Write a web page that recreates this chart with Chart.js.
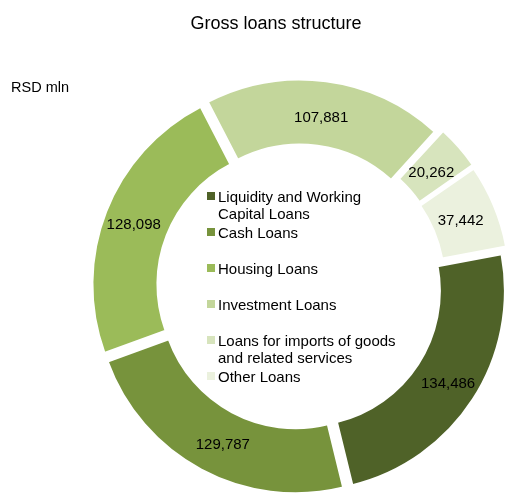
<!DOCTYPE html>
<html>
<head>
<meta charset="utf-8">
<title>Gross loans structure</title>
<script src="https://cdn.jsdelivr.net/npm/chart.js"></script>
<style>
  body { margin: 0; background: #fff; overflow: hidden; font-family: "Liberation Sans", Arial, sans-serif; color: #000; }
  #wrap { position: relative; width: 508px; height: 493px; }
  #loansChart { position: absolute; left: 0; top: 0; }
  .chart-title { position: absolute; left: 0; top: 13px; width: 552px; text-align: center; font-size: 18px; line-height: 20px; }
  .unit { position: absolute; left: 11px; top: 79px; font-size: 14.5px; line-height: 16px; }
  #legend { position: absolute; left: 207px; top: 188px; font-size: 15px; line-height: 17px; }
  .legend-item { position: relative; height: 36px; padding-left: 11px; white-space: nowrap; }
  .legend-box { position: absolute; left: 0; top: 4px; width: 8px; height: 8px; }
</style>
</head>
<body>
<div id="wrap">
  <canvas id="loansChart" width="508" height="493"></canvas>
  <div class="chart-title">Gross loans structure</div>
  <div class="unit">RSD mln</div>
  <div id="legend"></div>
</div>

<script>
// 数据
const categories = [
  'Liquidity and Working<br>Capital Loans',
  'Cash Loans',
  'Housing Loans',
  'Investment Loans',
  'Loans for imports of goods<br>and related services',
  'Other Loans'
];
const loanValues = [134486, 129787, 128098, 107881, 20262, 37442];
const sliceColors = ['#4F6228', '#77933C', '#9BBB59', '#C3D69B', '#D7E4BD', '#EBF1DE'];

// label placement along each slice (fraction of the arc) and radial nudge
const labelFrac = [0.5, 0.47, 0.49, 0.5, 0.54, 0.52];
const labelRadial = [3, 1, 2, -4, 0, 0];

const explode = 28; // Chart.js moves each arc by offset / 4

/**
 * 在扇区上绘制数值
 */
const sliceLabels = {
  id: 'sliceLabels',
  afterDatasetsDraw(chart) {
    const ctx = chart.ctx;
    const meta = chart.getDatasetMeta(0);
    ctx.save();
    ctx.font = '15px "Liberation Sans", Arial, sans-serif';
    ctx.fillStyle = '#000';
    ctx.textAlign = 'center';
    ctx.textBaseline = 'middle';
    meta.data.forEach((arc, i) => {
      const p = arc.getProps(['x', 'y', 'startAngle', 'endAngle', 'innerRadius', 'outerRadius']);
      const a = p.startAngle + (p.endAngle - p.startAngle) * labelFrac[i];
      const half = (p.startAngle + p.endAngle) / 2;
      const r = (p.innerRadius + p.outerRadius) / 2 + labelRadial[i];
      const shift = explode / 4;
      const x = p.x + Math.cos(a) * r + Math.cos(half) * shift;
      const y = p.y + Math.sin(a) * r + Math.sin(half) * shift;
      ctx.fillText(loanValues[i].toLocaleString('en-US'), x, y);
    });
    ctx.restore();
  }
};

new Chart(document.getElementById('loansChart'), {
  type: 'doughnut',
  data: {
    labels: categories,
    datasets: [{
      data: loanValues,
      backgroundColor: sliceColors,
      borderColor: '#fff',
      borderWidth: 2,
      offset: explode,
      hoverOffset: 0
    }]
  },
  options: {
    responsive: false,
    animation: false,
    events: [],
    rotation: 79.5,
    radius: 200,
    cutout: '67.5%',
    layout: { padding: { left: 90, right: 0, top: 81, bottom: 0 } },
    plugins: {
      legend: { display: false },
      tooltip: { enabled: false }
    }
  },
  plugins: [sliceLabels]
});

// 图例
const legendEl = document.getElementById('legend');
categories.forEach((name, i) => {
  const item = document.createElement('div');
  item.className = 'legend-item';
  item.innerHTML = '<span class="legend-box" style="background:' + sliceColors[i] + '"></span>' + name;
  legendEl.appendChild(item);
});
</script>
</body>
</html>
